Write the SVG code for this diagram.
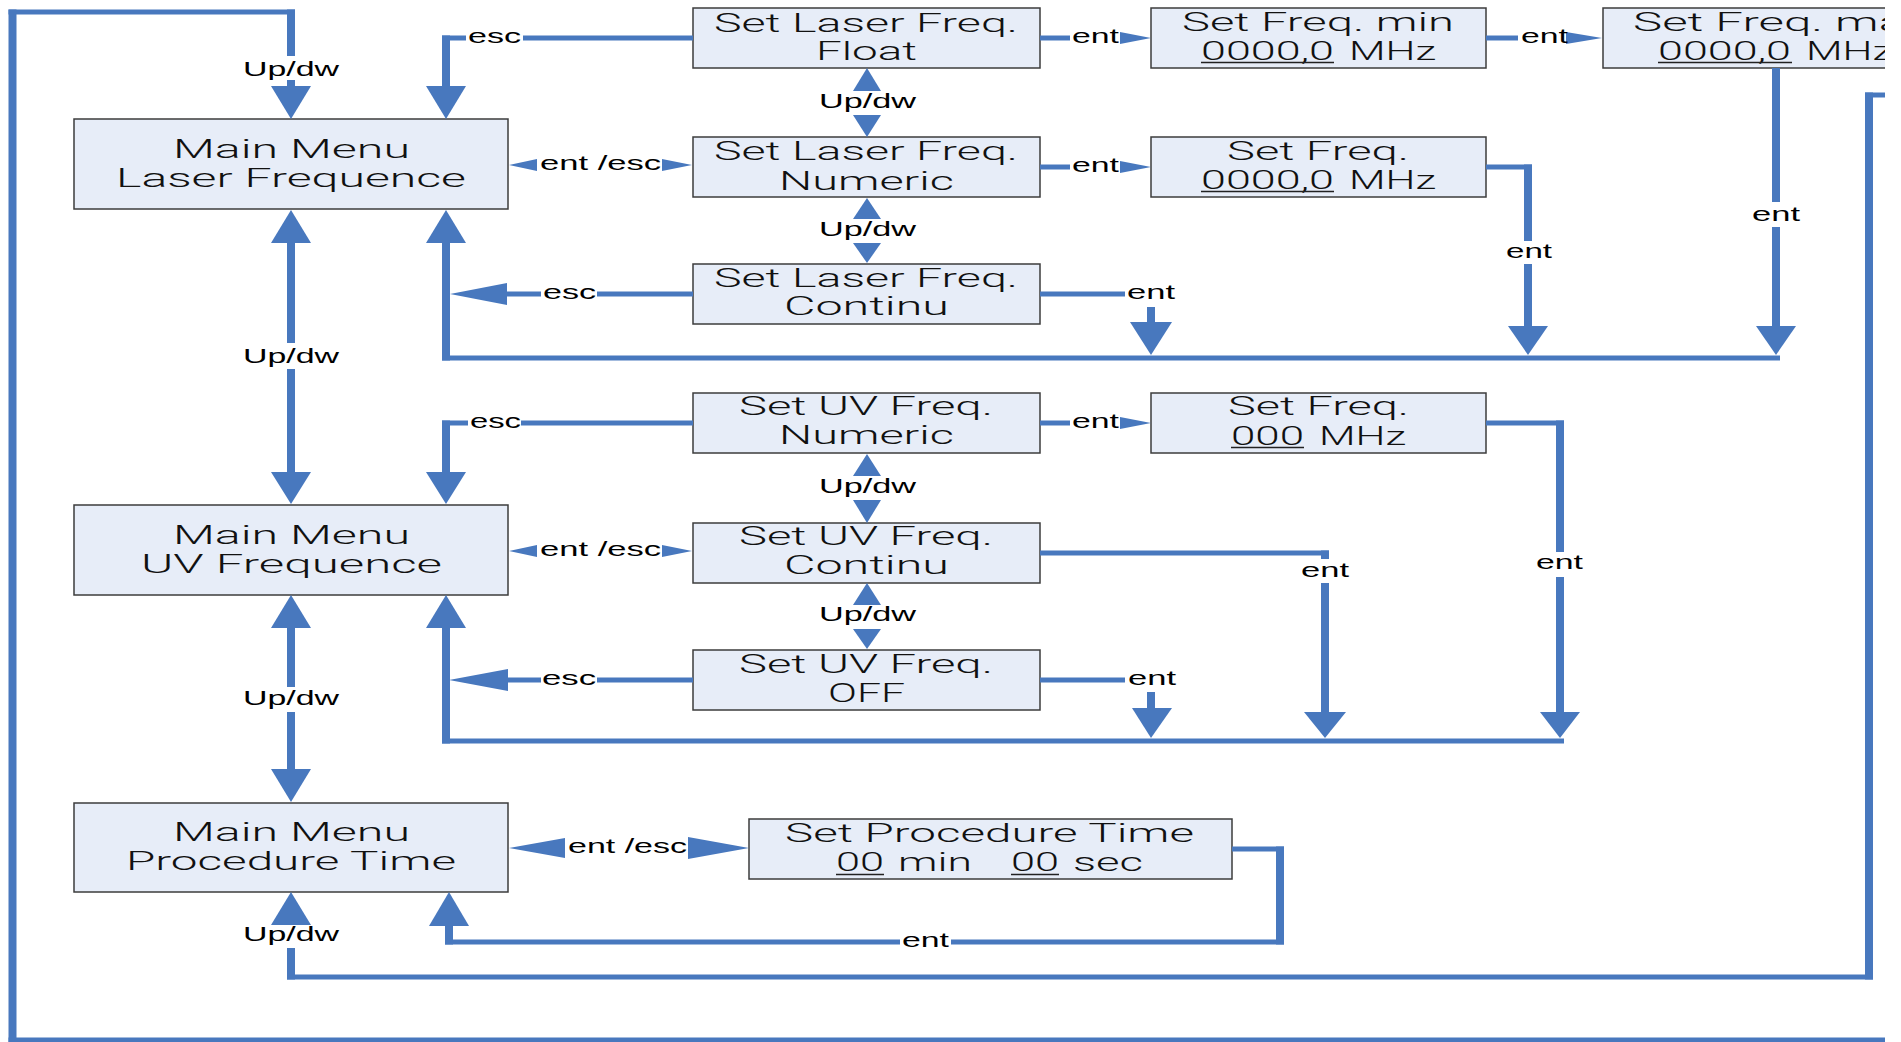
<svg xmlns="http://www.w3.org/2000/svg" width="1901" height="1042" viewBox="0 0 1901 1042">
  <style>
    .h { stroke: #4878BE; stroke-width: 5; fill: none; }
    .v { stroke: #4878BE; stroke-width: 8; fill: none; }
    .ah { fill: #4878BE; }
    .box { fill: #E7EDF8; stroke: #3C3C3C; stroke-width: 1.5; }
    .bt { font-family: Roboto, "Liberation Sans", Arial, sans-serif; font-weight: 300; font-size: 25px; fill: #111; }
    .lb { font-family: "Liberation Sans", Arial, sans-serif; font-size: 20px; fill: #000; }
    .ul { stroke: #222; stroke-width: 1.5; }
  </style>
  <defs>
    <clipPath id="edge">
      <rect x="0" y="0" width="1885" height="1042"/>
    </clipPath>
  </defs>
  <rect x="0" y="0" width="1901" height="1042" fill="#fff"/>

  <!-- menu nodes -->
  <g id="mm-laser">
    <rect class="box" x="74" y="119" width="434" height="90"/>
    <text class="bt" x="173" y="158" textLength="237" lengthAdjust="spacingAndGlyphs">Main Menu</text>
    <text class="bt" x="116" y="187" textLength="350" lengthAdjust="spacingAndGlyphs">Laser Frequence</text>
  </g>
  <g id="mm-uv">
    <rect class="box" x="74" y="505" width="434" height="90"/>
    <text class="bt" x="173" y="544" textLength="237" lengthAdjust="spacingAndGlyphs">Main Menu</text>
    <text class="bt" x="141" y="573" textLength="301" lengthAdjust="spacingAndGlyphs">UV Frequence</text>
  </g>
  <g id="mm-time">
    <rect class="box" x="74" y="803" width="434" height="89"/>
    <text class="bt" x="173" y="841" textLength="237" lengthAdjust="spacingAndGlyphs">Main Menu</text>
    <text class="bt" x="126" y="870" textLength="330" lengthAdjust="spacingAndGlyphs">Procedure Time</text>
  </g>

  <g id="laser-float">
    <rect class="box" x="693" y="8" width="347" height="60"/>
    <text class="bt" x="714" y="32" textLength="304" lengthAdjust="spacingAndGlyphs">Set Laser Freq.</text>
    <text class="bt" x="816" y="60" textLength="101" lengthAdjust="spacingAndGlyphs">Float</text>
  </g>
  <g id="laser-numeric">
    <rect class="box" x="693" y="137" width="347" height="60"/>
    <text class="bt" x="714" y="160" textLength="304" lengthAdjust="spacingAndGlyphs">Set Laser Freq.</text>
    <text class="bt" x="779" y="190" textLength="175" lengthAdjust="spacingAndGlyphs">Numeric</text>
  </g>
  <g id="laser-continu">
    <rect class="box" x="693" y="264" width="347" height="60"/>
    <text class="bt" x="714" y="287" textLength="304" lengthAdjust="spacingAndGlyphs">Set Laser Freq.</text>
    <text class="bt" x="784" y="315" textLength="165" lengthAdjust="spacingAndGlyphs">Continu</text>
  </g>
  <g id="uv-numeric">
    <rect class="box" x="693" y="393" width="347" height="60"/>
    <text class="bt" x="739" y="415" textLength="254" lengthAdjust="spacingAndGlyphs">Set UV Freq.</text>
    <text class="bt" x="779" y="444" textLength="175" lengthAdjust="spacingAndGlyphs">Numeric</text>
  </g>
  <g id="uv-continu">
    <rect class="box" x="693" y="523" width="347" height="60"/>
    <text class="bt" x="739" y="545" textLength="254" lengthAdjust="spacingAndGlyphs">Set UV Freq.</text>
    <text class="bt" x="784" y="574" textLength="165" lengthAdjust="spacingAndGlyphs">Continu</text>
  </g>
  <g id="uv-off">
    <rect class="box" x="693" y="650" width="347" height="60"/>
    <text class="bt" x="739" y="673" textLength="254" lengthAdjust="spacingAndGlyphs">Set UV Freq.</text>
    <text class="bt" x="828" y="702" textLength="77" lengthAdjust="spacingAndGlyphs">OFF</text>
  </g>

  <g id="freq-min">
    <rect class="box" x="1151" y="8" width="335" height="60"/>
    <text class="bt" x="1182" y="31" textLength="272" lengthAdjust="spacingAndGlyphs">Set Freq. min</text>
    <text class="bt" x="1201" y="60" textLength="133" lengthAdjust="spacingAndGlyphs">0000,0</text>
    <text class="bt" x="1349" y="60" textLength="87" lengthAdjust="spacingAndGlyphs">MHz</text>
    <line class="ul" x1="1201" y1="62.5" x2="1334" y2="62.5"/>
  </g>
  <g id="freq-max" clip-path="url(#edge)">
    <rect class="box" x="1603" y="8" width="335" height="60"/>
    <text class="bt" x="1633" y="31" textLength="296" lengthAdjust="spacingAndGlyphs">Set Freq. max</text>
    <text class="bt" x="1658" y="60" textLength="133" lengthAdjust="spacingAndGlyphs">0000,0</text>
    <text class="bt" x="1806" y="60" textLength="87" lengthAdjust="spacingAndGlyphs">MHz</text>
    <line class="ul" x1="1658" y1="62.5" x2="1792" y2="62.5"/>
  </g>
  <g id="laser-freq">
    <rect class="box" x="1151" y="137" width="335" height="60"/>
    <text class="bt" x="1227" y="160" textLength="182" lengthAdjust="spacingAndGlyphs">Set Freq.</text>
    <text class="bt" x="1201" y="189" textLength="133" lengthAdjust="spacingAndGlyphs">0000,0</text>
    <text class="bt" x="1349" y="189" textLength="87" lengthAdjust="spacingAndGlyphs">MHz</text>
    <line class="ul" x1="1201" y1="191.5" x2="1334" y2="191.5"/>
  </g>
  <g id="uv-freq">
    <rect class="box" x="1151" y="393" width="335" height="60"/>
    <text class="bt" x="1228" y="415" textLength="181" lengthAdjust="spacingAndGlyphs">Set Freq.</text>
    <text class="bt" x="1231" y="445" textLength="73" lengthAdjust="spacingAndGlyphs">000</text>
    <text class="bt" x="1319" y="445" textLength="87" lengthAdjust="spacingAndGlyphs">MHz</text>
    <line class="ul" x1="1231" y1="447.5" x2="1304" y2="447.5"/>
  </g>
  <g id="proc-time">
    <rect class="box" x="749" y="819" width="483" height="60"/>
    <text class="bt" x="785" y="842" textLength="409" lengthAdjust="spacingAndGlyphs">Set Procedure Time</text>
    <text class="bt" x="836" y="871" textLength="48" lengthAdjust="spacingAndGlyphs">00</text>
    <text class="bt" x="898" y="871" textLength="74" lengthAdjust="spacingAndGlyphs">min</text>
    <text class="bt" x="1011" y="871" textLength="48" lengthAdjust="spacingAndGlyphs">00</text>
    <text class="bt" x="1073" y="871" textLength="70" lengthAdjust="spacingAndGlyphs">sec</text>
    <line class="ul" x1="836" y1="874.5" x2="884" y2="874.5"/>
    <line class="ul" x1="1011" y1="874.5" x2="1059" y2="874.5"/>
  </g>

  <!-- connectors -->
  <g id="connectors">
    <!-- outer wrap-around into laser menu -->
    <path class="h" d="M8.5 1040 H1885"/>
    <path class="v" d="M12.5 1042.5 V9.5"/>
    <path class="h" d="M8.5 12 H295"/>
    <path class="v" d="M291 9.5 V56 M291 80 V88"/>
    <polygon class="ah" points="271,86 311,86 291,119"/>
    <text class="lb" x="243" y="76" textLength="96" lengthAdjust="spacingAndGlyphs">Up/dw</text>

    <!-- float esc -->
    <path class="h" d="M693 38 H523 M466 38 H442"/>
    <path class="v" d="M446 35.5 V88"/>
    <polygon class="ah" points="426,86 466,86 446,119"/>
    <text class="lb" x="468" y="43" textLength="53" lengthAdjust="spacingAndGlyphs">esc</text>

    <!-- laser menu <-> numeric -->
    <polygon class="ah" points="509,165 537,159 537,171"/>
    <polygon class="ah" points="692,165 662,159 662,171"/>
    <text class="lb" x="540" y="170" textLength="121" lengthAdjust="spacingAndGlyphs">ent /esc</text>

    <!-- laser menu <-> uv menu -->
    <polygon class="ah" points="291,210 271,243 311,243"/>
    <path class="v" d="M291 243 V343 M291 369 V472"/>
    <polygon class="ah" points="271,472 311,472 291,504"/>
    <text class="lb" x="243" y="363" textLength="96" lengthAdjust="spacingAndGlyphs">Up/dw</text>

    <!-- laser return bus -->
    <polygon class="ah" points="426,243 466,243 446,210"/>
    <path class="v" d="M446 243 V360.5"/>
    <path class="h" d="M442 358 H1780"/>
    <path class="h" d="M507 294 H541 M597 294 H693"/>
    <polygon class="ah" points="450,294 507,283 507,305"/>
    <text class="lb" x="543" y="299" textLength="53" lengthAdjust="spacingAndGlyphs">esc</text>

    <!-- laser submenu up/dw -->
    <polygon class="ah" points="867,68 853,91 881,91"/>
    <polygon class="ah" points="853,115 881,115 867,137"/>
    <text class="lb" x="819" y="108" textLength="97" lengthAdjust="spacingAndGlyphs">Up/dw</text>
    <polygon class="ah" points="867,198 853,219 881,219"/>
    <polygon class="ah" points="853,243 881,243 867,263"/>
    <text class="lb" x="819" y="236" textLength="97" lengthAdjust="spacingAndGlyphs">Up/dw</text>

    <!-- float -> min -> max -->
    <path class="h" d="M1040 38 H1070"/>
    <polygon class="ah" points="1120,32 1120,44 1151,38"/>
    <text class="lb" x="1072" y="43" textLength="47" lengthAdjust="spacingAndGlyphs">ent</text>
    <path class="h" d="M1486 38 H1518"/>
    <polygon class="ah" points="1566,32 1566,44 1602,38"/>
    <text class="lb" x="1521" y="43" textLength="47" lengthAdjust="spacingAndGlyphs">ent</text>
    <path class="v" d="M1776 68 V202 M1776 227 V328"/>
    <polygon class="ah" points="1756,326 1796,326 1776,355"/>
    <text class="lb" x="1752" y="221" textLength="48" lengthAdjust="spacingAndGlyphs">ent</text>

    <!-- numeric -> set freq -> bus -->
    <path class="h" d="M1040 167 H1070"/>
    <polygon class="ah" points="1120,161 1120,173 1151,167"/>
    <text class="lb" x="1072" y="172" textLength="47" lengthAdjust="spacingAndGlyphs">ent</text>
    <path class="h" d="M1486 167 H1532"/>
    <path class="v" d="M1528 164.5 V241 M1528 264 V328"/>
    <polygon class="ah" points="1508,326 1548,326 1528,355"/>
    <text class="lb" x="1506" y="258" textLength="46" lengthAdjust="spacingAndGlyphs">ent</text>

    <!-- continu -> bus -->
    <path class="h" d="M1040 294 H1125"/>
    <text class="lb" x="1127" y="299" textLength="48" lengthAdjust="spacingAndGlyphs">ent</text>
    <path class="v" d="M1151 307 V324"/>
    <polygon class="ah" points="1130,322 1172,322 1151,355"/>

    <!-- uv numeric esc -->
    <path class="h" d="M693 423 H521 M468 423 H442"/>
    <path class="v" d="M446 420.5 V474"/>
    <polygon class="ah" points="426,472 466,472 446,504"/>
    <text class="lb" x="470" y="428" textLength="51" lengthAdjust="spacingAndGlyphs">esc</text>

    <!-- uv menu <-> continu -->
    <polygon class="ah" points="509,551 537,545 537,557"/>
    <polygon class="ah" points="692,551 662,545 662,557"/>
    <text class="lb" x="540" y="556" textLength="121" lengthAdjust="spacingAndGlyphs">ent /esc</text>

    <!-- uv submenu up/dw -->
    <polygon class="ah" points="867,454 853,476 881,476"/>
    <polygon class="ah" points="853,500 881,500 867,523"/>
    <text class="lb" x="819" y="493" textLength="97" lengthAdjust="spacingAndGlyphs">Up/dw</text>
    <polygon class="ah" points="867,583 853,605 881,605"/>
    <polygon class="ah" points="853,629 881,629 867,649"/>
    <text class="lb" x="819" y="621" textLength="97" lengthAdjust="spacingAndGlyphs">Up/dw</text>

    <!-- uv numeric -> set freq -> bus -->
    <path class="h" d="M1040 423 H1070"/>
    <polygon class="ah" points="1120,417 1120,429 1151,423"/>
    <text class="lb" x="1072" y="428" textLength="47" lengthAdjust="spacingAndGlyphs">ent</text>
    <path class="h" d="M1486 423 H1564"/>
    <path class="v" d="M1560 420.5 V552 M1560 577 V714"/>
    <polygon class="ah" points="1540,712 1580,712 1560,738"/>
    <text class="lb" x="1536" y="569" textLength="47" lengthAdjust="spacingAndGlyphs">ent</text>

    <!-- uv continu -> bus -->
    <path class="h" d="M1040 553 H1329"/>
    <path class="v" d="M1325 550.5 V559 M1325 583 V714"/>
    <polygon class="ah" points="1304,712 1346,712 1325,738"/>
    <text class="lb" x="1301" y="577" textLength="48" lengthAdjust="spacingAndGlyphs">ent</text>

    <!-- uv off -> bus / esc -->
    <path class="h" d="M1040 680 H1125"/>
    <text class="lb" x="1128" y="685" textLength="48" lengthAdjust="spacingAndGlyphs">ent</text>
    <path class="v" d="M1151 692 V710"/>
    <polygon class="ah" points="1132,708 1172,708 1151,738"/>
    <path class="h" d="M508 680 H541 M597 680 H693"/>
    <polygon class="ah" points="449,680 508,669 508,691"/>
    <text class="lb" x="542" y="685" textLength="54" lengthAdjust="spacingAndGlyphs">esc</text>

    <!-- uv return bus -->
    <path class="h" d="M442 741 H1564"/>
    <path class="v" d="M446 628 V743.5"/>
    <polygon class="ah" points="426,628 466,628 446,595"/>

    <!-- uv menu <-> time menu -->
    <polygon class="ah" points="291,595 271,628 311,628"/>
    <path class="v" d="M291 628 V687 M291 712 V770"/>
    <polygon class="ah" points="271,769 311,769 291,802"/>
    <text class="lb" x="243" y="705" textLength="96" lengthAdjust="spacingAndGlyphs">Up/dw</text>

    <!-- time menu <-> set procedure time -->
    <polygon class="ah" points="509,848 565,838 565,858"/>
    <polygon class="ah" points="749,848 688,837 688,859"/>
    <text class="lb" x="568" y="853" textLength="119" lengthAdjust="spacingAndGlyphs">ent /esc</text>

    <!-- time menu wrap-around -->
    <polygon class="ah" points="291,892 271,925 311,925"/>
    <text class="lb" x="243" y="941" textLength="96" lengthAdjust="spacingAndGlyphs">Up/dw</text>
    <path class="v" d="M291 948 V979.5"/>
    <path class="h" d="M287 977 H1873"/>
    <path class="v" d="M1869 979.5 V92.5"/>
    <path class="h" d="M1865 95 H1885"/>

    <!-- set procedure time ent back -->
    <path class="h" d="M1232 849 H1284"/>
    <path class="v" d="M1280 846.5 V944.5"/>
    <path class="h" d="M1284 942 H951 M900 942 H445"/>
    <path class="v" d="M449 944.5 V924"/>
    <polygon class="ah" points="429,926 469,926 449,892"/>
    <text class="lb" x="902" y="947" textLength="47" lengthAdjust="spacingAndGlyphs">ent</text>
  </g>
</svg>
